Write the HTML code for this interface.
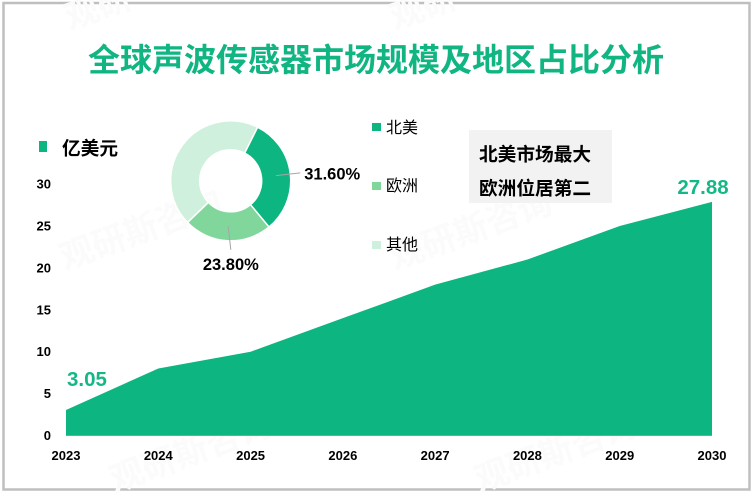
<!DOCTYPE html>
<html lang="zh-CN">
<head>
<meta charset="utf-8">
<title>全球声波传感器市场规模及地区占比分析</title>
<style>
html,body{margin:0;padding:0;background:#fff;}
body{width:753px;height:493px;overflow:hidden;}
svg{display:block;}
text{font-family:"Liberation Sans","Noto Sans CJK SC",sans-serif;}
.cjk{font-family:"Noto Sans CJK SC","Liberation Sans",sans-serif;}
</style>
</head>
<body>
<svg id="chart" xmlns="http://www.w3.org/2000/svg" width="753" height="493" viewBox="0 0 753 493">
  <rect x="0" y="0" width="753" height="493" fill="#ffffff"/>
  <rect x="3.5" y="3" width="746" height="486.5" fill="none" stroke="#bfbfbf" stroke-width="2.5"/>
  <g id="watermarks" class="cjk" font-size="34" font-weight="700" fill="#fbfbfb">
    <text transform="rotate(-20 70 30)" x="70" y="30">观研</text>
    <text transform="rotate(-20 395 30)" x="395" y="30">观研</text>
    <text transform="rotate(-20 65 270)" x="65" y="270">观研斯咨询</text>
    <text transform="rotate(-20 395 270)" x="395" y="270">观研斯咨询</text>
    <text transform="rotate(-20 115 492)" x="115" y="492">观研斯咨询</text>
    <text transform="rotate(-20 480 492)" x="480" y="492">观研斯咨询</text>
  </g>
  <text class="cjk" x="376" y="71" text-anchor="middle" font-size="32" font-weight="700" fill="#10b582">全球声波传感器市场规模及地区占比分析</text>

  <rect x="39" y="141" width="8" height="11" fill="#0db580"/>
  <text class="cjk" x="62" y="155" font-size="18.7" font-weight="700" fill="#000">亿美元</text>

  <g id="area-layer"></g>
  <g id="donut-layer"></g>

  <g class="cjk" font-size="16" fill="#000">
    <rect x="372" y="123" width="9" height="8" fill="#0db580"/>
    <text x="386" y="133">北美</text>
    <rect x="372" y="182" width="9" height="8" fill="#80d69b"/>
    <text x="386" y="191">欧洲</text>
    <rect x="372" y="241" width="9" height="8" fill="#cff0dc"/>
    <text x="386" y="250">其他</text>
  </g>

  <rect x="469" y="130" width="143" height="73" fill="#f2f2f2"/>
  <text class="cjk" x="479" y="161" font-size="18.7" font-weight="700" fill="#000">北美市场最大</text>
  <text class="cjk" x="479" y="195" font-size="18.7" font-weight="700" fill="#000">欧洲位居第二</text>
</svg>
<script>
var years = ["2023","2024","2025","2026","2027","2028","2029","2030"];
var marketValues = [3.05, 8, 10, 14, 18, 21, 25, 27.88];
var yTicks = [0, 5, 10, 15, 20, 25, 30];
var pointLabels = ["3.05", "", "", "", "", "", "", "27.88"];
var shareRegions = ["北美", "欧洲", "其他"];
var shareValues = [31.6, 23.8, 44.6];
var shareLabels = ["31.60%", "23.80%", ""];

var NS = "http://www.w3.org/2000/svg";
function xScale(i){ return 66 + i * (712 - 66) / (years.length - 1); }
function yScale(v){ return 435.5 - v * 8.38; }
function make(tag, attrs, parent){
  var el = document.createElementNS(NS, tag);
  for (var k in attrs) el.setAttribute(k, attrs[k]);
  parent.appendChild(el);
  return el;
}

var areaLayer = document.getElementById("area-layer");
var d = "M" + xScale(0) + " " + yScale(0);
marketValues.forEach(function(v, i){ d += " L" + xScale(i).toFixed(2) + " " + yScale(v).toFixed(2); });
d += " L" + xScale(years.length - 1) + " " + yScale(0) + " Z";
var area = make("path", {d: d, fill: "#0db580"}, areaLayer);


var baseline = make("line", {x1: 66, x2: 712, y1: yScale(0), y2: yScale(0), stroke: "#8c9a96", "stroke-width": 1}, areaLayer);



yTicks.forEach(function(t){
  var el = make("text", {x: 51, y: yScale(t) + 4.5, "text-anchor": "end", "font-size": 13, "font-weight": 700, fill: "#000"}, areaLayer);
  el.textContent = t;
  
  
});
years.forEach(function(y, i){
  var el = make("text", {x: xScale(i), y: 460, "text-anchor": "middle", "font-size": 13, "font-weight": 700, fill: "#000"}, areaLayer);
  el.textContent = y;
  
  
});
pointLabels.forEach(function(label, i){
  if (!label) return;
  var last = i === years.length - 1;
  var el = make("text", {
    x: last ? xScale(i) - 9 : xScale(i) + 1,
    y: yScale(marketValues[i]) - (last ? 8 : 24),
    "font-size": 20.5, "font-weight": 700, fill: "#14b886",
    "text-anchor": last ? "middle" : "start"
  }, areaLayer);
  el.textContent = label;
  
  
});

var donutLayer = document.getElementById("donut-layer");
var donutColors = ["#0db580", "#80d69b", "#cff0dc"];
var cx = 230.7, cy = 180.8, rOuter = 60, rInner = 31, startDeg = 26.6;
function polar(r, deg){
  var a = (deg - 90) * Math.PI / 180;
  return [cx + r * Math.cos(a), cy + r * Math.sin(a)];
}
var totalShare = shareValues.reduce(function(a, b){ return a + b; }, 0);
var cursor = startDeg;
shareValues.forEach(function(v, i){
  var sweep = v / totalShare * 360;
  var end = cursor + sweep;
  var large = sweep > 180 ? 1 : 0;
  var p1 = polar(rOuter, cursor), p2 = polar(rOuter, end), p3 = polar(rInner, end), p4 = polar(rInner, cursor);
  var slice = make("path", {
    d: "M" + p1[0] + " " + p1[1] + " A" + rOuter + " " + rOuter + " 0 " + large + " 1 " + p2[0] + " " + p2[1] +
       " L" + p3[0] + " " + p3[1] + " A" + rInner + " " + rInner + " 0 " + large + " 0 " + p4[0] + " " + p4[1] + " Z",
    fill: donutColors[i], stroke: "#fff", "stroke-width": 1.5
  }, donutLayer);
  
  
  var title = make("title", {}, slice);
  title.textContent = shareRegions[i] + " " + v + "%";
  cursor = end;
});
// Leader lines and labels follow the middle of each labelled slice.
var mid = startDeg;
shareValues.forEach(function(v, i){
  var sweep = v / totalShare * 360;
  var m = mid + sweep / 2;
  mid += sweep;
  if (!shareLabels[i]) return;
  var inner = polar(45.5, m);
  var outer = i === 0 ? polar(70, m) : polar(69, m - 3.3);
  var line = make("line", {x1: inner[0], y1: inner[1], x2: outer[0], y2: outer[1], stroke: "#a6a6a6", "stroke-width": 1}, donutLayer);
  
  
  var labelPos = i === 0 ? [outer[0] + 4, outer[1] + 6.5] : [outer[0], outer[1] + 20];
  var text = make("text", {
    x: labelPos[0], y: labelPos[1], "font-size": 16.5, "font-weight": 700, fill: "#000",
    "text-anchor": i === 0 ? "start" : "middle"
  }, donutLayer);
  text.textContent = shareLabels[i];
  
  
});
</script>
</body>
</html>
